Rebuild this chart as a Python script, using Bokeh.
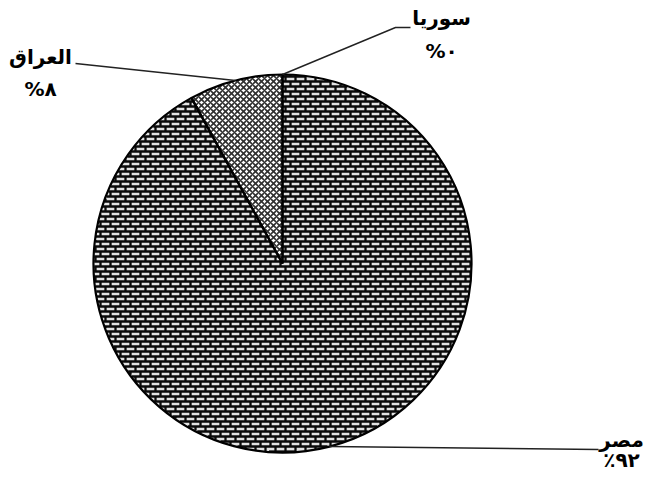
import math
import numpy as np
from bokeh.plotting import figure
from bokeh.models import Range1d
from bokeh.core.properties import value
from bokeh.embed import file_html
from bokeh.resources import INLINE

# ---- data ----
countries = ["مصر", "العراق", "سوريا"]
shares = [92, 8, 0]
share_labels = ["٪٩٢", "%٨", "%٠"]

# ---- layout (picture pixel coordinates, y downwards) ----
W, H = 644, 474
CX, CY, R = 282, 263, 189
label_pos = [(621, 439), (40, 56), (441, 17)]    # name label centres
pct_offset = [20, 32, 33]                         # vertical gap to % line
leader_end = [(598, 449), (75, 63), (410, 27)]
leader_elbow = [(598, 449), (75, 63), (395, 27)]
ROW, BRICK = 5, 10                                # brick texture size


def Y(iy):
    return H - iy


p = figure(width=W, height=H, output_backend="svg", toolbar_location=None,
           x_range=Range1d(0, W), y_range=Range1d(0, H), min_border=0)
p.axis.visible = False
p.grid.visible = False
p.outline_line_color = None
p.background_fill_color = "white"

# slice angles (clockwise from 12 o'clock, degrees) from the data
total = sum(shares)
cw_ranges, bokeh_angles, mids = [], [], []
cum = 0.0
for s in shares:
    a0 = 360.0 * cum / total
    cum += s
    a1 = 360.0 * cum / total
    cw_ranges.append((a0, a1))
    bokeh_angles.append((math.radians(90 - a0), math.radians(90 - a1)))
    mids.append(math.radians(90 - (a0 + a1) / 2))


def inside(i, x, y):
    dx, dy = x - CX, CY - y
    ok = dx * dx + dy * dy <= (R - 0.5) ** 2
    cw = (90 - np.degrees(np.arctan2(dy, dx))) % 360
    return ok & (cw >= cw_ranges[i][0]) & (cw <= cw_ranges[i][1])


# base fills
EG = 0
p.wedge(x=CX, y=Y(CY), radius=R, start_angle=bokeh_angles[EG][0],
        end_angle=bokeh_angles[EG][1], direction="clock",
        fill_color="#e2e2e2", line_color=None)

# brick texture of the Egypt slice (mortar lines)
x0s, y0s, x1s, y1s = [], [], [], []
xs_samp = np.arange(CX - R, CX + R + 0.25, 0.25)
rows = np.arange(CY - R - CY % ROW, CY + R + ROW, ROW)
for k, ry in enumerate(rows):
    m = inside(EG, xs_samp, np.full_like(xs_samp, ry))
    if m.any():
        d = np.diff(np.concatenate([[0], m.astype(int), [0]]))
        starts = np.where(d == 1)[0]
        ends = np.where(d == -1)[0] - 1
        for a, b in zip(starts, ends):
            x0s.append(xs_samp[a]); x1s.append(xs_samp[b])
            y0s.append(Y(ry)); y1s.append(Y(ry))
    off = (k % 2) * BRICK // 2
    ys_samp = np.arange(ry, ry + ROW + 0.01, 0.25)
    for bx in range(CX - R - (CX - R) % BRICK + off, CX + R + 1, BRICK):
        mv = inside(EG, np.full_like(ys_samp, bx), ys_samp)
        if mv.any():
            yy = ys_samp[mv]
            x0s.append(bx); x1s.append(bx)
            y0s.append(Y(yy.min())); y1s.append(Y(yy.max()))
p.segment(x0=x0s, y0=y0s, x1=x1s, y1=y1s, line_color="#0a0a0a",
          line_width=2.3)

# other slices: cross-hatched
for i, s in enumerate(shares):
    if s <= 0 or i == EG:
        continue
    p.wedge(x=CX, y=Y(CY), radius=R, start_angle=bokeh_angles[i][0],
            end_angle=bokeh_angles[i][1], direction="clock",
            fill_color="white", hatch_pattern="diagonal_cross",
            hatch_scale=6, hatch_color="#303030", hatch_weight=1.6,
            line_color=None)

# outlines
for i, s in enumerate(shares):
    if s <= 0:
        continue
    p.wedge(x=CX, y=Y(CY), radius=R, start_angle=bokeh_angles[i][0],
            end_angle=bokeh_angles[i][1], direction="clock",
            fill_color=None, line_color="black", line_width=2.2)

# leader lines
lx, ly = [], []
for i in range(len(shares)):
    sx = CX + R * math.cos(mids[i])
    sy = CY - R * math.sin(mids[i])
    lx.append([sx, leader_elbow[i][0], leader_end[i][0]])
    ly.append([Y(sy), Y(leader_elbow[i][1]), Y(leader_end[i][1])])
p.multi_line(xs=lx, ys=ly, line_color="#222222", line_width=1.4)

# labels
p.text(x=[l[0] for l in label_pos], y=[Y(l[1]) for l in label_pos],
       text=countries, text_align="center", text_baseline="middle",
       text_font=value("DejaVu Sans"), text_font_style="bold",
       text_font_size="20px", text_color="black")
p.text(x=[l[0] for l in label_pos],
       y=[Y(l[1] + o) for l, o in zip(label_pos, pct_offset)],
       text=share_labels, text_align="center", text_baseline="middle",
       text_font=value("DejaVu Sans"), text_font_style="bold",
       text_font_size="20px", text_color="black")

open("out.html", "w").write(file_html(p, INLINE))
